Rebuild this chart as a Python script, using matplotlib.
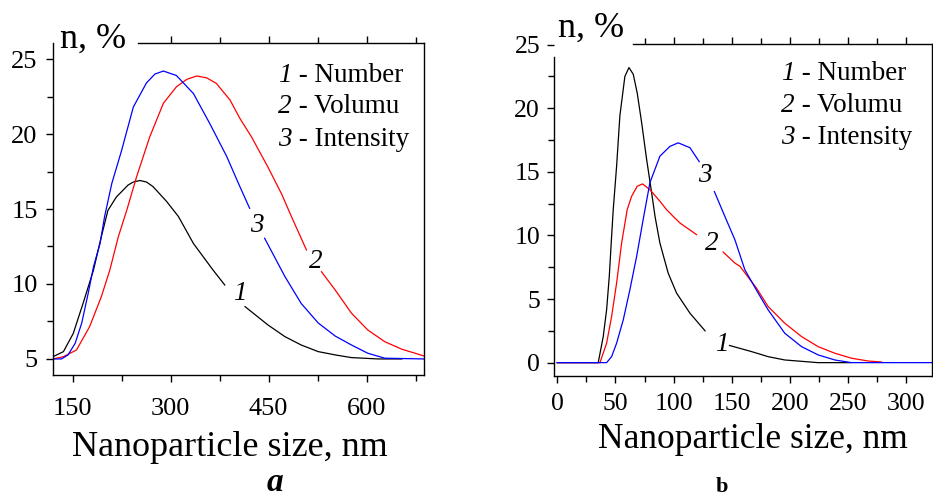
import numpy as np
import matplotlib
matplotlib.use("Agg")
import matplotlib.pyplot as plt

nan = np.nan

# ---- Panel a: particle size distributions, baseline at 5 % ----
size_a_number = [120, 136, 151, 166, 182, 194, 204, 217, 235, 243, 253, 263, 273, 294,
                 312, 335, 365, 383, nan, 414, 449, 475, 500, 526, 552, 577, 618, 654]
pct_a_number = [5.15, 5.49, 6.7, 8.7, 10.93, 13.15, 14.9, 15.8, 16.6, 16.8, 16.9, 16.8, 16.5, 15.5,
                14.5, 12.7, 10.93, 9.93, nan, 8.49, 7.27, 6.49, 5.93, 5.49, 5.27, 5.09, 5.0, 5.0]

size_a_volume = [120, 136, 156, 176, 194, 207, 220, 233, 248, 268, 289, 309, 325, 340, 355,
                 370, 391, 406, 424, 449, 470, 485, 508, nan, 531, 552, 577, 602, 628, 654, 688]
pct_a_volume = [5.0, 5.15, 5.6, 7.15, 9.15, 10.93, 13.15, 14.93, 17.15, 19.8, 22.05, 23.15, 23.65, 23.87, 23.75,
                23.38, 22.27, 21.05, 19.8, 17.8, 16.0, 14.5, 12.27, nan, 10.82, 9.6, 8.05, 6.93, 6.15, 5.65, 5.2]

size_a_intensity = [120, 133, 143, 154, 164, 174, 182, 192, 199, 210, 225, 243, 263, 276, 289,
                    309, 335, 360, 386, 404, 421, nan, 444, 475, 500, 526, 552, 577, 602, 628, 688]
pct_a_intensity = [5.0, 5.0, 5.27, 6.05, 7.4, 9.4, 11.15, 12.7, 14.5, 16.7, 18.9, 21.8, 23.4, 24.0, 24.2,
                   23.9, 22.7, 20.7, 18.5, 16.7, 15.05, nan, 13.05, 10.5, 8.7, 7.4, 6.53, 5.93, 5.38, 5.05, 5.0]

# ---- Panel b: particle size distributions, baseline at 0 % ----
size_b_number = [0, 35.2, 39.5, 42.4, 44.7, 46.7, 48.1, 51.0, 53.8, 58.1, 61.6, 65.3, 68.7, 72.5,
                 76.8, 81.1, 84.0, 88.2, 95.3, 102.5, 114, 127, nan, 148, 166.9, 181.2, 195.5, 224, 252]
pct_b_number = [0, 0, 2.05, 4.15, 6.78, 9.93, 12.03, 15.45, 19.4, 22.5, 23.2, 22.67, 21.2, 18.87,
                15.97, 13.35, 11.5, 9.4, 7.04, 5.47, 3.89, 2.5, nan, 1.35, 0.87, 0.47, 0.21, 0.0, 0.0]

size_b_volume = [0, 36.7, 42.4, 46.7, 51.0, 55.3, 60.1, 63.9, 68.7, 73.3, 79.6, 88.2, 93.9, 99.6,
                 105.4, 119.7, nan, 142.5, 152.6, 157, 171.2, 181.2, 195.5, 209.9, 224.1, 238.5, 252.8, 267, 278.6]
pct_b_volume = [0, 0, 1.53, 3.62, 6.26, 9.4, 12.03, 13.08, 13.87, 14.05, 13.6, 12.69, 12.03, 11.5,
                10.98, 10.06, nan, 8.7, 7.83, 7.57, 5.86, 4.41, 3.1, 2.05, 1.26, 0.74, 0.35, 0.13, 0.05]

size_b_intensity = [0, 42.4, 46.7, 51.0, 56.7, 62.4, 68.2, 73.8, 79.6, 88.2, 96.8, 103.9, 114, 122,
                    nan, 135, 144, 152.6, 161.2, 172.6, 181.2, 195.5, 209.9, 224.1, 238.5, 252.8, 322]
pct_b_intensity = [0, 0, 0.47, 1.53, 3.36, 5.73, 8.35, 11.24, 14.14, 16.23, 17.0, 17.28, 16.9, 15.8,
                   nan, 13.45, 11.5, 9.67, 7.3, 5.47, 4.15, 2.31, 1.26, 0.61, 0.21, 0.0, 0.0]

legend_numbers = ["1", "2", "3"]
legend_names = ["Number", "Volumu", "Intensity"]

xticks_a = [150, 300, 450, 600]
xminor_a = [225, 375, 525, 675]
yticks_a = [5, 10, 15, 20, 25]
yminor_a = [7.5, 12.5, 17.5, 22.5]

xticks_b = [0, 50, 100, 150, 200, 250, 300]
xminor_b = [25, 75, 125, 175, 225, 275]
yticks_b = [0, 5, 10, 15, 20, 25]
yminor_b = [2.5, 7.5, 12.5, 17.5, 22.5]

plt.rcParams["font.family"] = ["Liberation Serif", "DejaVu Serif"]

W, H = 933, 497
fig = plt.figure(figsize=(W / 100, H / 100), dpi=100)


def fpos(px, py):
    """Pixel position (from top-left) to figure fraction."""
    return px / W, 1 - py / H


ax_a = fig.add_axes([53 / W, 1 - 375 / H, 371 / W, 332 / H])
ax_b = fig.add_axes([554 / W, 1 - 376 / H, 378 / W, 332 / H])

lw = 0.9
ax_a.plot(size_a_number, pct_a_number, color="black", lw=lw)
ax_a.plot(size_a_volume, pct_a_volume, color="#ff0000", lw=lw)
ax_a.plot(size_a_intensity, pct_a_intensity, color="#0000ff", lw=lw)

ax_b.plot(size_b_number, pct_b_number, color="black", lw=lw)
ax_b.plot(size_b_volume, pct_b_volume, color="#ff0000", lw=lw)
ax_b.plot(size_b_intensity, pct_b_intensity, color="#0000ff", lw=lw)


def style_axes(ax, xlim, ylim, xt, xm, yt, ym, top_from, left_to, xpad, ypad, fs):
    ax.set_xlim(*xlim)
    ax.set_ylim(*ylim)
    ax.set_xticks(xt)
    ax.set_xticks(xm, minor=True)
    ax.set_yticks(yt)
    ax.set_yticks(ym, minor=True)
    ax.set_xticklabels([str(v) for v in xt])
    ax.set_yticklabels([str(v) for v in yt])
    for s in ax.spines.values():
        s.set_linewidth(1.0)
    ax.spines["top"].set_bounds(top_from, xlim[1])
    ax.spines["left"].set_bounds(ylim[0], left_to)
    ax.tick_params(axis="x", which="both", direction="out", top=True, bottom=True,
                   labeltop=False, width=1.0)
    ax.tick_params(axis="x", which="major", length=5, pad=xpad, labelsize=fs)
    ax.tick_params(axis="x", which="minor", length=4)
    ax.tick_params(axis="y", which="both", direction="out", left=True, right=False, width=1.0)
    ax.tick_params(axis="y", which="major", length=5, pad=ypad, labelsize=fs)
    ax.tick_params(axis="y", which="minor", length=4)
    # top ticks only where the top frame line is drawn
    for loc, tick in zip(xt, ax.xaxis.get_major_ticks()):
        tick.tick2line.set_visible(loc >= top_from)
    for loc, tick in zip(xm, ax.xaxis.get_minor_ticks()):
        tick.tick2line.set_visible(loc >= top_from)


style_axes(ax_a, (120, 688), (3.93, 26.07), xticks_a, xminor_a, yticks_a, yminor_a,
           top_from=250, left_to=26.07, xpad=11.5, ypad=6, fs=19)
style_axes(ax_b, (-2.8, 322), (-1.05, 25.05), xticks_b, xminor_b, yticks_b, yminor_b,
           top_from=65, left_to=24.0, xpad=7.5, ypad=5, fs=18.5)

# y-axis titles
fig.text(*fpos(60, 48), "n, %", fontsize=26, ha="left", va="baseline")
fig.text(*fpos(558, 37), "n, %", fontsize=26, ha="left", va="baseline")

# x-axis titles
fig.text(*fpos(230, 456), "Nanoparticle size, nm", fontsize=26, ha="center", va="baseline")
fig.text(*fpos(753, 448), "Nanoparticle size, nm", fontsize=25.5, ha="center", va="baseline")

# legends: italic curve number followed by the series name
for (lx, baselines) in [(278, [81.5, 113, 145.5]), (781, [80.5, 112.5, 144.3])]:
    for num, name, by in zip(legend_numbers, legend_names, baselines):
        fig.text(*fpos(lx, by), num, fontsize=19.5, style="italic",
                 ha="left", va="baseline")
        fig.text(*fpos(lx + 14, by), " - " + name, fontsize=19.5,
                 ha="left", va="baseline")

# curve numbers
lab = dict(fontsize=19.5, style="italic", ha="center", va="center")
ax_a.text(432, 13.87, "3", **lab)
ax_a.text(523, 11.49, "2", **lab)
ax_a.text(406, 9.38, "1", **lab)
ax_b.text(126.8, 14.71, "3", **lab)
ax_b.text(132.6, 9.39, "2", **lab)
ax_b.text(141.2, 1.39, "1", **lab)

# panel letters
fig.text(*fpos(275, 491), "a", fontsize=24, weight="bold", style="italic",
         ha="center", va="baseline")
fig.text(*fpos(722, 492), "b", fontsize=16, weight="bold", ha="center", va="baseline")

fig.savefig("out.png", dpi=100)
